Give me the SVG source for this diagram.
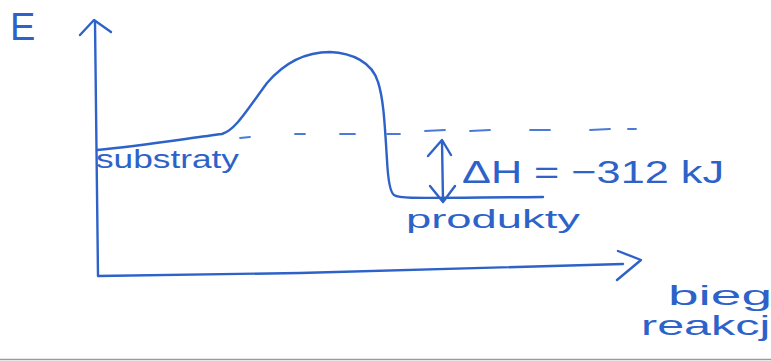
<svg xmlns="http://www.w3.org/2000/svg" width="771" height="361" viewBox="0 0 771 361">
<style>
.ink{fill:none;stroke:#2d62c9;stroke-width:2.4;stroke-linecap:round;stroke-linejoin:round}
.dash{fill:none;stroke:#4a7bd6;stroke-width:1.8;stroke-linecap:round}
.lbl{fill:#2d62c9;font-family:"Liberation Sans","DejaVu Sans",sans-serif}
</style>
<rect width="771" height="361" fill="#ffffff"/>
<g id="axes">
  <path class="ink" d="M95,22 C96,100 97,200 98,276 L300,273 L623,264"/>
  <path class="ink" d="M80,35 L94,20 L111,32"/>
  <path class="ink" d="M618,251 L641,260 L617,280"/>
</g>
<g id="connectors">
  <path id="energy-curve" class="ink" d="M97,150 C140,146 190,138 222,134 C235,130 245,113 267,83 C285,62 305,52 330,52 C352,53 372,62 378,82 C384,100 385,130 387,160 C388,180 390,192 394,195 C400,199 410,198 543,197"/>
  <path id="reference-dash" class="dash" d="M240,138 L250,137 M295,134 L305,134 M340,134 L355,134 M387,134 L400,134 M425,131 L445,130 M470,131 L490,130 M530,130 L550,130 M590,130 L610,129 M628,129 L636,129"/>
  <path id="dH-arrow" class="ink" d="M442,141 L443,201 M428,156 L442,140 L451,155 M430,186 L443,202 L455,186"/>
</g>
<g id="label-E"><text class="lbl" x="10" y="40" font-size="38">E</text></g>
<g id="label-substraty"><text class="lbl" x="96" y="168" font-size="25" textLength="143" lengthAdjust="spacingAndGlyphs">substraty</text></g>
<g id="label-produkty"><text class="lbl" x="406" y="228" font-size="25" textLength="174" lengthAdjust="spacingAndGlyphs">produkty</text></g>
<g id="label-dH"><text class="lbl" x="462" y="183" font-size="32" textLength="262" lengthAdjust="spacingAndGlyphs">ΔH = −312 kJ</text></g>
<g id="label-bieg"><text class="lbl" x="668" y="305" font-size="28" textLength="104" lengthAdjust="spacingAndGlyphs">bieg</text>
<text class="lbl" x="641" y="335" font-size="28" textLength="140" lengthAdjust="spacingAndGlyphs">reakcji</text></g>
<line x1="0" y1="359.5" x2="771" y2="359.5" stroke="#9a9a9a" stroke-width="1.5"/>
</svg>
